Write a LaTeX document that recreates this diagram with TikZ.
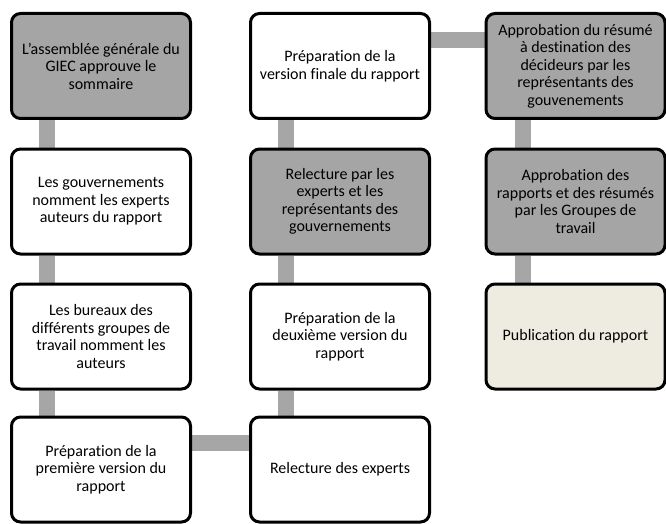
\documentclass[tikz,border=0pt]{standalone}
\usepackage{fontspec}
\setmainfont{Carlito}[Ligatures=NoCommon]
\usetikzlibrary{backgrounds}
\definecolor{boxgray}{HTML}{A5A5A5}
\definecolor{linkgray}{HTML}{A6A6A6}
\definecolor{paper}{HTML}{EEECE1}
\begin{document}
\begin{tikzpicture}[x=1pt, y=-1pt,
  box/.style={draw, line width=3pt, rounded corners=9pt, fill=white,
    minimum width=179pt, minimum height=105pt, align=center,
    font=\fontsize{16}{17.5}\selectfont},
  greybox/.style={box, fill=boxgray},
  link/.style={draw=linkgray, line width=16pt}]
\useasboundingbox (0,0) rectangle (666,524);
%
\node[greybox] (a1) at (101,66) {L'assemblée générale du\\GIEC approuve le\\sommaire};
\node[box] (a2) at (101,201.5) {Les gouvernements\\nomment les experts\\auteurs du rapport};
\node[box] (a3) at (101,336.5) {Les bureaux des\\différents groupes de\\travail nomment les\\auteurs};
\node[box] (a4) at (101,469.5) {Préparation de la\\première version du\\rapport};
%
\node[box] (b4) at (340,469.5) {Relecture des experts};
\node[box] (b3) at (340,336.5) {Préparation de la\\deuxième version du\\rapport};
\node[greybox] (b2) at (340,201.5) {Relecture par les\\experts et les\\représentants des\\gouvernements};
\node[box] (b1) at (340,66) {Préparation de la\\version finale du rapport};
%
\node[greybox] (c1) at (575.5,66) {Approbation du résumé\\à destination des\\décideurs par les\\représentants des\\gouvenements};
\node[greybox] (c2) at (575.5,201.5) {Approbation des\\rapports et des résumés\\par les Groupes de\\travail};
\node[box, fill=paper] (c3) at (575.5,336.5) {Publication du rapport};
%
\begin{scope}[on background layer]
  \draw[link] ([xshift=37pt]a1.south west) -- ([xshift=37pt]a2.north west);
  \draw[link] ([xshift=37pt]a2.south west) -- ([xshift=37pt]a3.north west);
  \draw[link] ([xshift=37pt]a3.south west) -- ([xshift=37pt]a4.north west);
  %
  \draw[link] ([yshift=-27pt]a4.north east) -- ([yshift=-27pt]b4.north west);
  %
  \draw[link] ([xshift=37pt]b4.north west) -- ([xshift=37pt]b3.south west);
  \draw[link] ([xshift=37pt]b3.north west) -- ([xshift=37pt]b2.south west);
  \draw[link] ([xshift=37pt]b2.north west) -- ([xshift=37pt]b1.south west);
  %
  \draw[link] ([yshift=-28pt]b1.north east) -- ([yshift=-28pt]c1.north west);
  %
  \draw[link] ([xshift=38pt]c1.south west) -- ([xshift=38pt]c2.north west);
  \draw[link] ([xshift=38pt]c2.south west) -- ([xshift=38pt]c3.north west);
\end{scope}
%
\end{tikzpicture}
\end{document}
